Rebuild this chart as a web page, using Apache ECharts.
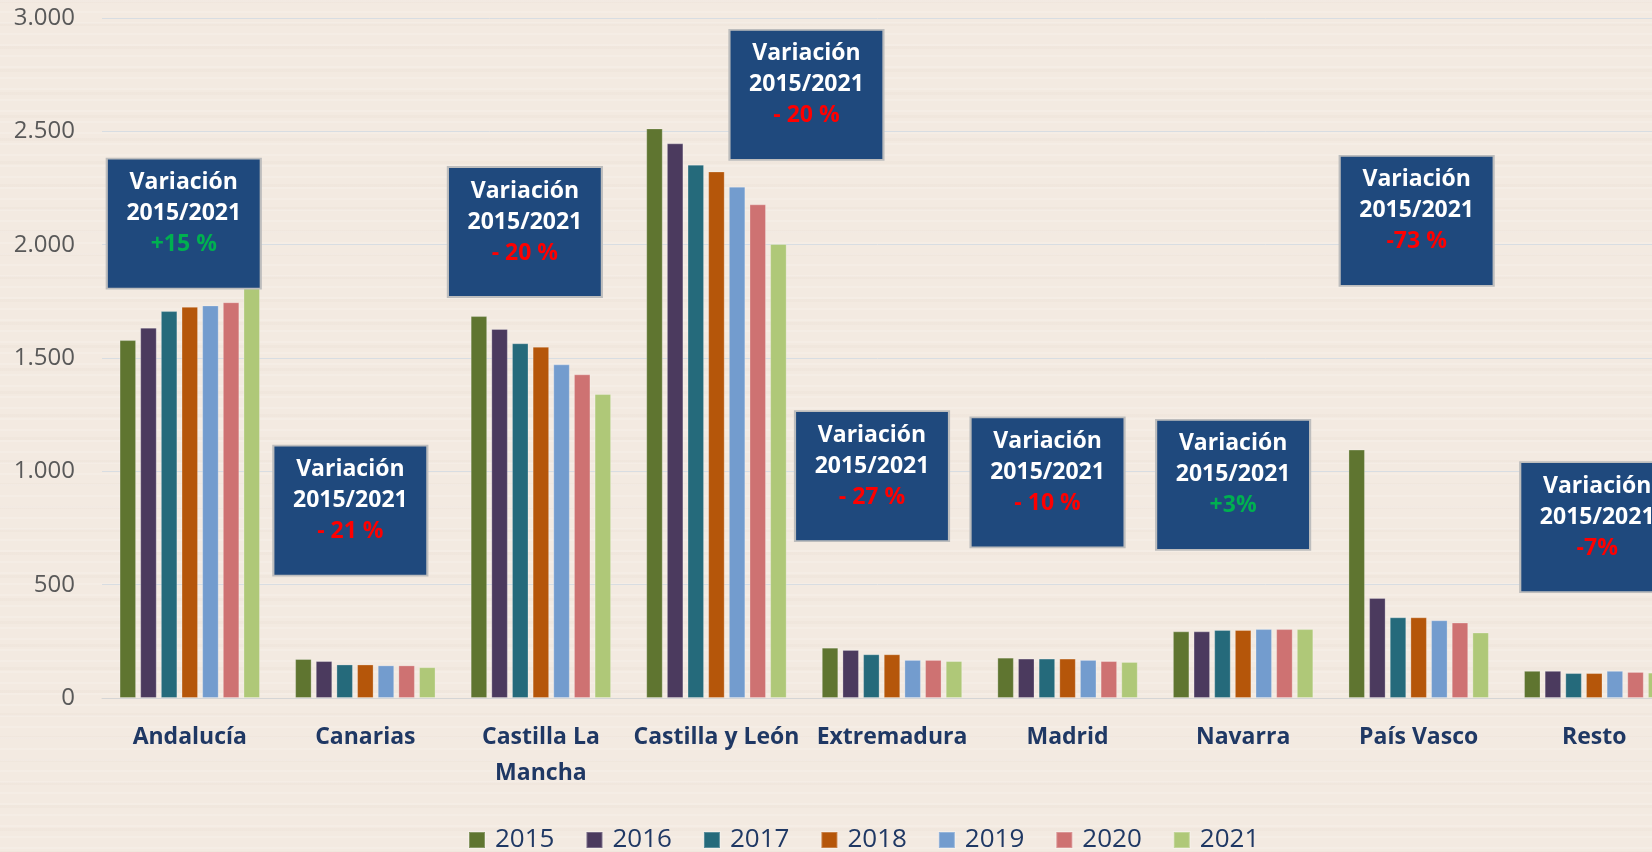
<!DOCTYPE html>
<html>
<head>
<meta charset="utf-8">
<script src="https://cdn.jsdelivr.net/npm/echarts@6/dist/echarts.min.js"></script>
<style>
html,body{margin:0;padding:0;}
body{
  width:1652px;height:852px;overflow:hidden;
  background-color:#F3EAE1;
  background-image:
    repeating-linear-gradient(180deg, rgba(255,255,255,0.14) 0px, rgba(255,255,255,0.14) 2px, rgba(0,0,0,0) 2px, rgba(0,0,0,0) 11px),
    repeating-linear-gradient(180deg, rgba(190,170,150,0.05) 0px, rgba(190,170,150,0.05) 3px, rgba(0,0,0,0) 3px, rgba(0,0,0,0) 23px);
}
#chart{width:1652px;height:852px;}
</style>
</head>
<body>
<div id="chart"></div>
<script>
// ---- data ----
const categories = ['Andalucía', 'Canarias', 'Castilla La Mancha', 'Castilla y León', 'Extremadura', 'Madrid', 'Navarra', 'País Vasco', 'Resto'];
const years = ['2015', '2016', '2017', '2018', '2019', '2020', '2021'];
const v2015 = [1579, 172, 1685, 2513, 222, 178, 294, 1096, 120];
const v2016 = [1634, 163, 1628, 2447, 212, 174, 294, 441, 120];
const v2017 = [1707, 148, 1565, 2353, 193, 174, 300, 356, 110];
const v2018 = [1726, 148, 1550, 2323, 193, 174, 300, 356, 110];
const v2019 = [1732, 144, 1472, 2256, 168, 168, 304, 343, 120];
const v2020 = [1746, 144, 1428, 2178, 168, 163, 304, 333, 115];
const v2021 = [1815, 136, 1341, 2003, 163, 159, 304, 289, 112];
const yTicks = [0, 500, 1000, 1500, 2000, 2500, 3000];
const variationText = ['+15 %', '- 21 %', '- 20 %', '- 20 %', '- 27 %', '- 10 %', '+3%', '-73 %', '-7%'];

// ---- annotation layout (box centre in value units, horizontal shift in px) ----
const boxCenterValue = [2093, 827, 2056, 2661, 979, 951, 940, 2105, 754];
const boxShiftX = [-6, -15, -16, 90, -20, -20, -10, -2, 3];

const colors = ['#5F7530', '#4B3A5E', '#256A7B', '#B5560A', '#739CCE', '#CE7272', '#AFC878'];
const seriesValues = [v2015, v2016, v2017, v2018, v2019, v2020, v2021];

const fmt = v => String(v).replace(/\B(?=(\d{3})+(?!\d))/g, '.');
// long names wrap at their last space, like the original
const wrap = s => s.length > 16 ? s.replace(/ (?=[^ ]*$)/, '\n') : s;

const markData = categories.map((c, i) => ({
  coord: [i, boxCenterValue[i]],
  symbolOffset: [boxShiftX[i], 0],
  label: {
    formatter: '{w|Variación}\n{w|2015/2021}\n{' + (variationText[i].trim().startsWith('+') ? 'g' : 'r') + '|' + variationText[i] + '}'
  }
}));

// middle series (2018) sits at the category centre, so it carries the boxes
const MID = 3;
const series = years.map((y, k) => {
  const s = {
    name: y,
    type: 'bar',
    data: seriesValues[k],
    itemStyle: { color: colors[k], borderColor: 'rgba(255,255,255,0.25)', borderWidth: 1 },
    barGap: '25%',
    barCategoryGap: '20%'
  };
  if (k === MID) {
    s.markPoint = {
      z: 20,
      symbol: 'rect',
      symbolSize: [154, 130],
      itemStyle: { color: '#1F497D', borderColor: '#BDBDBD', borderWidth: 2 },
      label: {
        show: true,
        position: 'inside',
        offset: [0, -10],
        fontFamily: 'Open Sans',
        rich: {
          w: { color: '#FFFFFF', fontSize: 23, fontWeight: 'bold', fontFamily: 'Open Sans', lineHeight: 31 },
          r: { color: '#FF0000', fontSize: 23, fontWeight: 'bold', fontFamily: 'Open Sans', lineHeight: 31 },
          g: { color: '#00B050', fontSize: 23, fontWeight: 'bold', fontFamily: 'Open Sans', lineHeight: 31 }
        }
      },
      data: markData
    };
  }
  return s;
});

const chart = echarts.init(document.getElementById('chart'), null, { renderer: 'canvas' });
chart.setOption({
  backgroundColor: 'transparent',
  animation: false,
  grid: {
    left: 102, top: 18, width: 1580, height: 680,
    containLabel: false,
    outerBoundsMode: 'none'
  },
  legend: {
    data: years,
    left: 463,
    top: 822,
    icon: 'rect',
    itemWidth: 16,
    itemHeight: 16,
    itemGap: 31,
    textStyle: { fontFamily: 'Open Sans', fontSize: 26, color: '#1F3864', padding: [0, 0, 0, 5] }
  },
  xAxis: {
    type: 'category',
    data: categories,
    axisLine: { show: true, lineStyle: { color: '#D5D5D5', width: 1 } },
    axisTick: { show: false },
    axisLabel: {
      interval: 0,
      margin: 21,
      formatter: v => wrap(v),
      fontFamily: 'Open Sans',
      fontWeight: 'bold',
      fontSize: 23,
      lineHeight: 36,
      color: '#1F3864'
    }
  },
  yAxis: {
    type: 'value',
    min: yTicks[0],
    max: yTicks[yTicks.length - 1],
    interval: yTicks[1] - yTicks[0],
    axisLine: { show: false },
    axisTick: { show: false },
    splitLine: { lineStyle: { color: '#D8DDE2', width: 1 } },
    axisLabel: {
      margin: 27,
      fontFamily: 'Open Sans',
      fontSize: 24,
      color: '#595959',
      formatter: v => fmt(v)
    }
  },
  series: series
});
</script>
</body>
</html>
